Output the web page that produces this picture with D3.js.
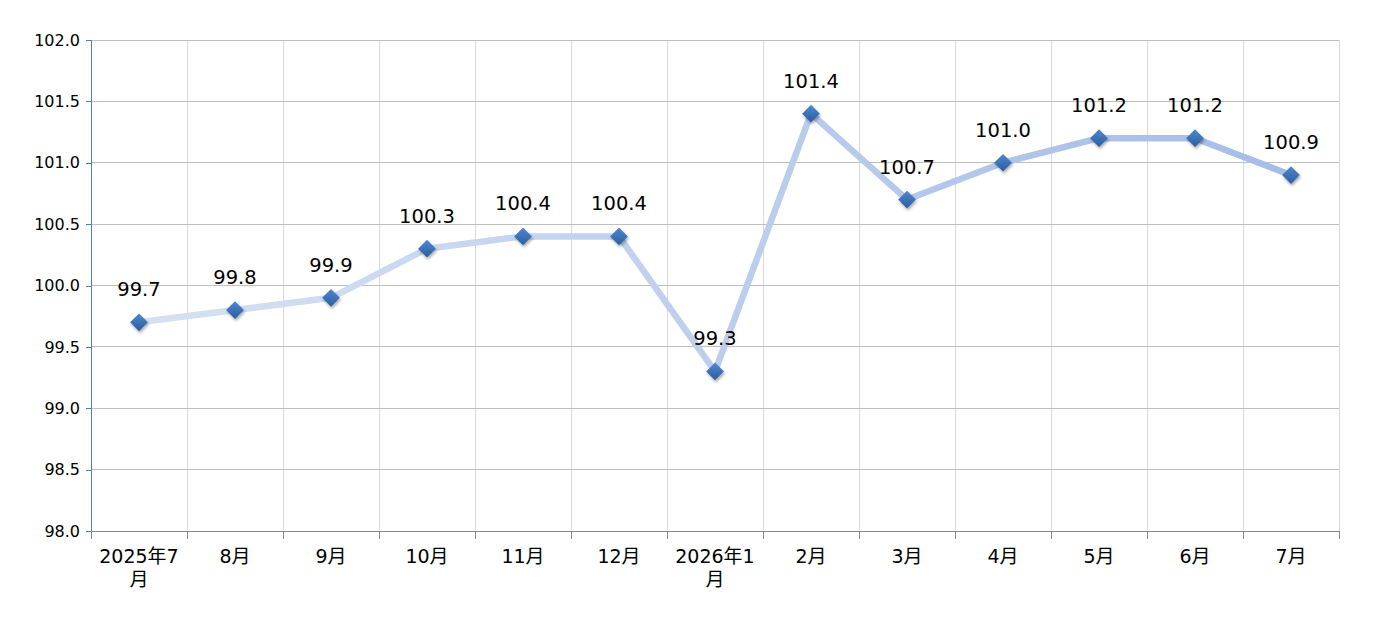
<!DOCTYPE html>
<html><head><meta charset="utf-8">
<script src="https://cdn.jsdelivr.net/npm/d3@7/dist/d3.min.js"></script>
<style>
html,body{margin:0;padding:0;background:#fff;}
svg{display:block;font-family:"DejaVu Sans","Noto Sans CJK SC",sans-serif;}
</style></head>
<body>
<svg id="chart" width="1375" height="635"></svg>
<script>
const categories = ["2025年7月","8月","9月","10月","11月","12月","2026年1月","2月","3月","4月","5月","6月","7月"];
const values = [99.7,99.8,99.9,100.3,100.4,100.4,99.3,101.4,100.7,101.0,101.2,101.2,100.9];
const yTicks = [98.0,98.5,99.0,99.5,100.0,100.5,101.0,101.5,102.0];

const svg = d3.select("#chart");
const m = {left:91, right:1339, top:40, bottom:531};
const x = d3.scaleBand().domain(categories).range([m.left, m.right]).paddingInner(0).paddingOuter(0);
const y = d3.scaleLinear().domain([98,102]).range([m.bottom, m.top]);

const defs = svg.append("defs");
const lg = defs.append("linearGradient").attr("id","lineGrad")
  .attr("gradientUnits","userSpaceOnUse")
  .attr("x1", m.left).attr("x2", m.right).attr("y1",0).attr("y2",0);
lg.append("stop").attr("offset","0%").attr("stop-color","#d8e2f3");
lg.append("stop").attr("offset","100%").attr("stop-color","#a3bbe7");
const mg = defs.append("linearGradient").attr("id","mkGrad").attr("x1","0").attr("y1","0").attr("x2","0").attr("y2","1");
mg.append("stop").attr("offset","0%").attr("stop-color","#4f88d0");
mg.append("stop").attr("offset","100%").attr("stop-color","#2c5d9f");
const f = defs.append("filter").attr("id","shadow").attr("x","-50%").attr("y","-50%").attr("width","200%").attr("height","200%");
f.append("feDropShadow").attr("dx",1).attr("dy",2).attr("stdDeviation",1.5).attr("flood-color","#000").attr("flood-opacity",0.35);

// vertical gridlines
const bounds = categories.map(c => x(c)).concat([m.right]);
svg.append("g").selectAll("line").data(bounds.slice(1)).join("line")
  .attr("x1", d=>d).attr("x2", d=>d).attr("y1", m.top).attr("y2", m.bottom)
  .attr("stroke","#d9d9d9").attr("stroke-width",1).attr("shape-rendering","crispEdges");

// horizontal gridlines
svg.append("g").selectAll("line").data(yTicks.slice(1)).join("line")
  .attr("x1", m.left).attr("x2", m.right).attr("y1", d=>y(d)).attr("y2", d=>y(d))
  .attr("stroke","#bfbfbf").attr("stroke-width",1).attr("shape-rendering","crispEdges");

// y axis
const yAxis = d3.axisLeft(y).tickValues(yTicks).tickFormat(d3.format(".1f")).tickSize(5).tickPadding(6);
const gy = svg.append("g").attr("transform",`translate(${m.left},0)`).call(yAxis);
gy.select(".domain").attr("stroke","#4f81bd").attr("shape-rendering","crispEdges");
gy.selectAll(".tick line").attr("stroke","#4f81bd").attr("shape-rendering","crispEdges");
gy.selectAll(".tick text").attr("font-size","16px").attr("fill","#000").attr("font-family","DejaVu Sans");

// x axis line and ticks
svg.append("line").attr("x1",m.left).attr("x2",m.right).attr("y1",m.bottom).attr("y2",m.bottom)
  .attr("stroke","#868686").attr("shape-rendering","crispEdges");
svg.append("g").selectAll("line").data(bounds).join("line")
  .attr("x1", d=>d).attr("x2", d=>d).attr("y1", m.bottom).attr("y2", m.bottom+8)
  .attr("stroke","#868686").attr("shape-rendering","crispEdges");

// x labels with char wrap
const xl = svg.append("g");
const maxW = x.bandwidth() - 6;
categories.forEach(c => {
  const t = xl.append("text").attr("x", x(c)+x.bandwidth()/2).attr("y", m.bottom+32)
    .attr("text-anchor","middle").attr("font-size","19px").attr("fill","#000");
  let lines = [], cur = "";
  const probe = t.append("tspan");
  for (const ch of c) {
    probe.text(cur+ch);
    if (probe.node().getComputedTextLength() > maxW && cur) { lines.push(cur); cur = ch; }
    else cur += ch;
  }
  lines.push(cur);
  probe.remove();
  lines.forEach((ln,i) => t.append("tspan").attr("x", x(c)+x.bandwidth()/2).attr("dy", i===0?0:23).text(ln));
});

// line
const cx = c => x(c)+x.bandwidth()/2;
const line = d3.line().x((d,i)=>cx(categories[i])).y(d=>y(d));
svg.append("path").datum(values).attr("d", line).attr("fill","none")
  .attr("stroke","url(#lineGrad)").attr("stroke-width",6.5).attr("stroke-linejoin","round");

// markers
const sym = d3.symbol().type(d3.symbolDiamond2).size(200);
svg.append("g").selectAll("path").data(values).join("path")
  .attr("d", sym).attr("transform",(d,i)=>`translate(${cx(categories[i])},${y(d)})`)
  .attr("fill","url(#mkGrad)").attr("filter","url(#shadow)");

// data labels
svg.append("g").selectAll("text").data(values).join("text")
  .attr("x",(d,i)=>cx(categories[i])).attr("y", d=>y(d)-26)
  .attr("text-anchor","middle").attr("font-size","19.5px").attr("fill","#000")
  .text(d=>d3.format(".1f")(d));
</script>
</body></html>
